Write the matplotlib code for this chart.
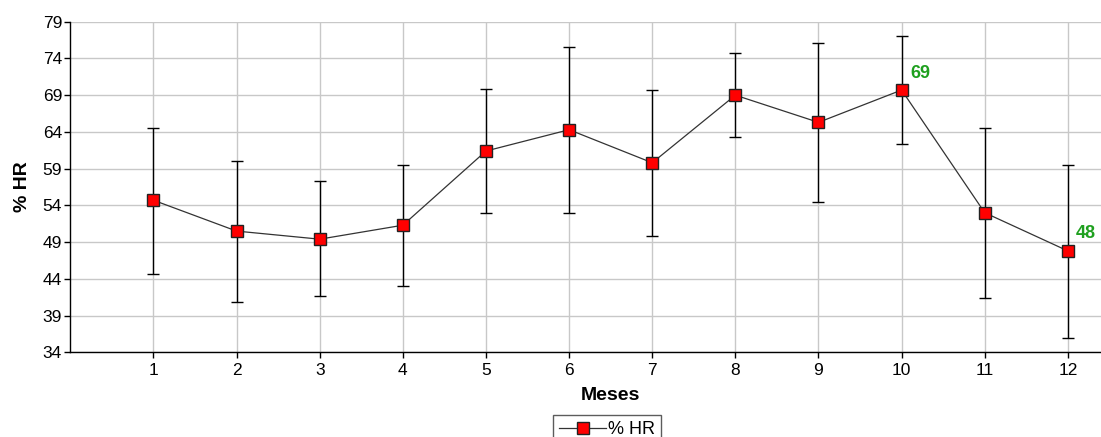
import matplotlib
matplotlib.use('Agg')
import matplotlib.pyplot as plt

# data
meses = [1, 2, 3, 4, 5, 6, 7, 8, 9, 10, 11, 12]
hr = [54.7, 50.5, 49.4, 51.3, 61.4, 64.3, 59.8, 69.0, 65.3, 69.7, 53.0, 47.8]
hr_top = [64.6, 60.0, 57.3, 59.5, 69.8, 75.6, 69.7, 74.8, 76.1, 77.1, 64.6, 59.5]
hr_bottom = [44.6, 40.8, 41.6, 43.0, 52.9, 53.0, 49.8, 63.3, 54.4, 62.4, 41.4, 36.0]
y_ticks = [34, 39, 44, 49, 54, 59, 64, 69, 74, 79]
# point labels shown on the chart
label_idx = [9, 11]
label_txt = ['69', '48']

plt.rcParams['font.family'] = ['Liberation Sans', 'DejaVu Sans']

fig = plt.figure(figsize=(11.01, 4.37), dpi=100)
# axes runs a bit past the right edge, like the cropped original
ax = fig.add_axes([0.0639, 0.1938, 0.9815, 0.7565])

err_lo = [h - b for h, b in zip(hr, hr_bottom)]
err_hi = [t - h for h, t in zip(hr, hr_top)]

ax.errorbar(meses, hr, yerr=[err_lo, err_hi], fmt='none', ecolor='black',
            elinewidth=1, capsize=4, capthick=1, zorder=3)
ax.plot(meses, hr, color='#333333', lw=0.9, marker='s', markersize=9,
        markerfacecolor='#ff0000', markeredgecolor='#222222', markeredgewidth=1,
        label='% HR', zorder=4)

for i, t in zip(label_idx, label_txt):
    ax.annotate(t, (meses[i], hr[i]), xytext=(6, 9), textcoords='offset points',
                color='#1fa01f', fontsize=13, fontweight='bold', zorder=5)

ax.set_xlim(0, 13)
ax.set_ylim(34, 79)
ax.set_xticks(meses)
ax.set_yticks(y_ticks)
ax.tick_params(axis='both', labelsize=12.5, length=4, width=1, color='black', pad=2)
ax.tick_params(axis='x', pad=4)
ax.grid(True, color='#c8c8c8', lw=1)
ax.set_axisbelow(True)
ax.spines['top'].set_visible(False)
ax.spines['right'].set_visible(False)
for s in ['left', 'bottom']:
    ax.spines[s].set_color('black')
    ax.spines[s].set_linewidth(1)

ax.set_xlabel('Meses', fontsize=14, fontweight='bold', labelpad=6)
ax.set_ylabel('% HR', fontsize=14, fontweight='bold', labelpad=8)

leg = ax.legend(loc='upper center', bbox_to_anchor=(0.5513, 0.05),
                bbox_transform=fig.transFigure, fontsize=13, frameon=True,
                fancybox=False, edgecolor='#333333', handlelength=2.6,
                handletextpad=0.1, borderpad=0.35, borderaxespad=0)
leg.get_frame().set_linewidth(1)

fig.savefig('out.png', dpi=100)
